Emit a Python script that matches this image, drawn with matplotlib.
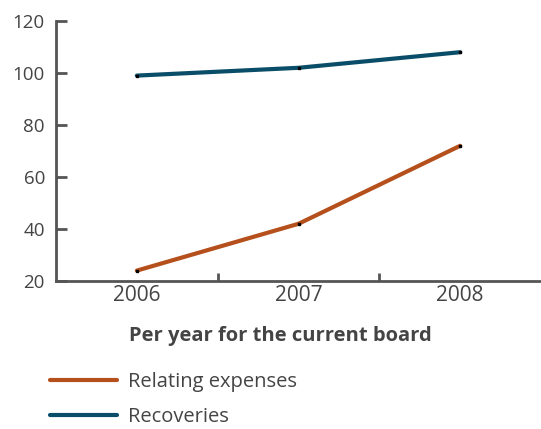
import matplotlib
matplotlib.use("Agg")
import matplotlib.pyplot as plt
from matplotlib.lines import Line2D

years = ["2006", "2007", "2008"]
expenses = [24, 42, 72]
recoveries = [99, 102, 108]
yticks = [20, 40, 60, 80, 100, 120]

orange = "#B5501C"
blue = "#0A4D68"
grey = "#555555"

plt.rcParams["font.family"] = ["Open Sans", "DejaVu Sans"]

W, H = 541, 429
fig = plt.figure(figsize=(W / 100, H / 100), dpi=100)
ax = fig.add_axes([56 / W, 1 - 281 / H, 1 - 56 / W, 260 / H])

x = range(len(years))
ax.plot(x, expenses, color=orange, lw=3, solid_capstyle="round",
        marker="s", ms=2, mfc="black", mec="black", zorder=3)
ax.plot(x, recoveries, color=blue, lw=3, solid_capstyle="round",
        marker="s", ms=2, mfc="black", mec="black", zorder=3)

ax.set_xlim(-0.5, 2.5)
ax.set_ylim(20, 120)
ax.set_yticks(yticks)
ax.tick_params(axis="y", direction="in", length=8, width=2, color=grey,
               labelcolor="#444444", labelsize=13.5, pad=8)

# category labels centred, ticks between categories
ax.set_xticks([0.5, 1.5])
ax.set_xticklabels([])
ax.set_xticks(list(x), minor=True)
ax.set_xticklabels(years, minor=True)
ax.tick_params(axis="x", which="major", direction="in", length=6, width=2, color=grey)
ax.tick_params(axis="x", which="minor", length=0, labelcolor="#444444",
               labelsize=15, pad=3)

for s in ["top", "right"]:
    ax.spines[s].set_visible(False)
for s in ["left", "bottom"]:
    ax.spines[s].set_color(grey)
    ax.spines[s].set_linewidth(2)

fig.text(280 / W, 1 - 336 / H, "Per year for the current board", ha="center",
         va="center", fontsize=14.5, fontweight="bold", color="#444444")

handles = [Line2D([], [], color=orange, lw=3, solid_capstyle="round"),
           Line2D([], [], color=blue, lw=3, solid_capstyle="round")]
fig.legend(handles, ["Relating expenses", "Recoveries"], loc="upper left",
           bbox_to_anchor=(32 / W, 1 - 354 / H), frameon=False, fontsize=14.5,
           handlelength=3.3, labelcolor="#444444", labelspacing=0.75,
           handletextpad=0.55)

fig.savefig("out.png", dpi=100)
